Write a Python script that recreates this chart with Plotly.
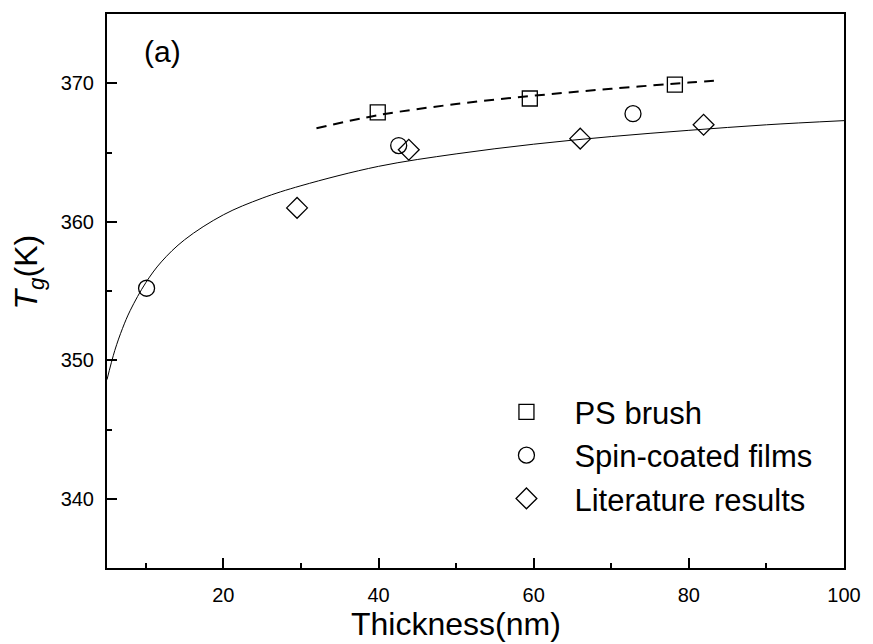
import plotly.graph_objects as go

# --- data ---
ps_x = [39.9, 59.5, 78.2]
ps_y = [367.9, 368.9, 369.9]

spin_x = [10.1, 42.6, 72.8]
spin_y = [355.2, 365.5, 367.8]

lit_x = [29.5, 43.9, 66.0, 81.9]
lit_y = [361.0, 365.2, 366.0, 367.0]

fit_x = [5, 6, 7, 8, 10, 12, 15, 20, 25, 30, 40, 50, 60, 70, 80, 90, 100]
fit_y = [348.6, 350.7, 352.3, 353.6, 355.6, 357.1, 358.7, 360.5, 361.7, 362.6,
         364.0, 364.9, 365.6, 366.15, 366.6, 367.0, 367.3]

brush_fit_x = [32, 40, 50, 60, 70, 80, 84]
brush_fit_y = [366.75, 367.7, 368.5, 369.1, 369.6, 370.05, 370.2]

x_ticks = [20, 40, 60, 80, 100]
y_ticks = [340, 350, 360, 370]

FONT = "Arial, Liberation Sans, sans-serif"

fig = go.Figure()

fig.add_trace(go.Scatter(x=fit_x, y=fit_y, mode="lines", line=dict(color="black", width=1, shape="spline"),
                         showlegend=False, hoverinfo="skip"))
fig.add_trace(go.Scatter(x=brush_fit_x, y=brush_fit_y, mode="lines",
                         line=dict(color="black", width=2, dash="10px,7px", shape="spline"),
                         showlegend=False, hoverinfo="skip"))

fig.add_trace(go.Scatter(x=ps_x, y=ps_y, mode="markers", name="PS brush",
                         marker=dict(symbol="square-open", size=15, color="black", line=dict(width=1.3))))
fig.add_trace(go.Scatter(x=spin_x, y=spin_y, mode="markers", name="Spin-coated films",
                         marker=dict(symbol="circle-open", size=16, color="black", line=dict(width=1.3))))
fig.add_trace(go.Scatter(x=lit_x, y=lit_y, mode="markers", name="Literature results",
                         marker=dict(symbol="diamond-open", size=16, color="black", line=dict(width=1.3))))

axis_common = dict(
    showgrid=False, zeroline=False, showline=True, linecolor="black", linewidth=2,
    mirror=True, ticks="inside", ticklen=10, tickwidth=2, tickcolor="black",
    tickfont=dict(family=FONT, size=20, color="black"),
)

fig.update_xaxes(range=[5, 100], tickvals=x_ticks, ticklabelstandoff=8,
                 minor=dict(dtick=10, tick0=0, ticks="inside", ticklen=5, tickwidth=2, tickcolor="black"),
                 **axis_common)
fig.update_yaxes(range=[335, 375], tickvals=y_ticks, ticklabelstandoff=7,
                 minor=dict(dtick=5, tick0=335, ticks="inside", ticklen=5, tickwidth=2, tickcolor="black"),
                 **axis_common)

fig.update_layout(
    width=873, height=644,
    margin=dict(l=107, r=21, t=13, b=76),
    plot_bgcolor="white", paper_bgcolor="white",
    font=dict(family=FONT, color="black"),
    legend=dict(x=0.504, y=0.33, xanchor="left", yanchor="top",
                font=dict(family=FONT, size=31, color="black"),
                itemwidth=86, bgcolor="rgba(0,0,0,0)", tracegroupgap=0),
    annotations=[
        dict(text="Thickness(nm)", x=0.473, y=-0.1365, xref="paper", yref="paper",
             showarrow=False, xanchor="center", yanchor="bottom",
             font=dict(family=FONT, size=32, color="black")),
        dict(text="<i>T</i><sub><i>g</i></sub>(K)", x=-0.106, y=0.535, xref="paper", yref="paper",
             showarrow=False, xanchor="center", yanchor="middle", textangle=-90,
             font=dict(family=FONT, size=32, color="black")),
        dict(text="(a)", x=0.0752, y=0.932, xref="paper", yref="paper",
             showarrow=False, xanchor="center", yanchor="middle",
             font=dict(family=FONT, size=30, color="black")),
    ],
)

fig.write_html("out.html", config={"displayModeBar": False},
               post_script="document.body.style.margin='0';document.body.style.padding='0';")
